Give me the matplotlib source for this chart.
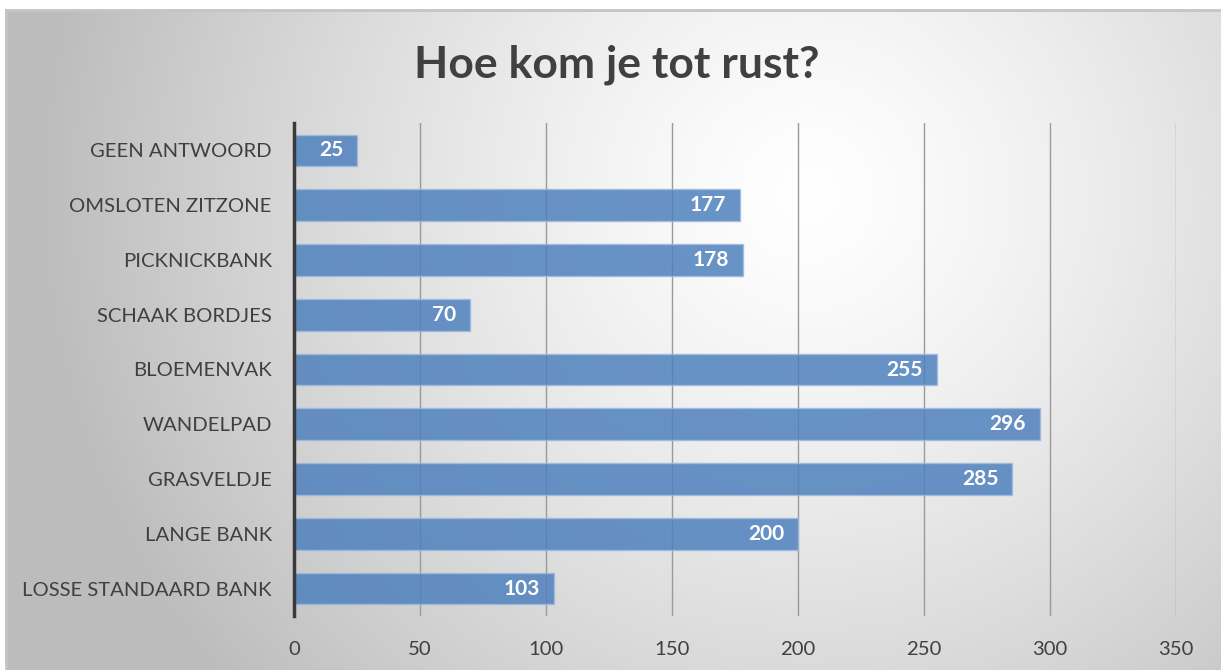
import numpy as np
from matplotlib import pyplot as plt

categories = ["GEEN ANTWOORD", "OMSLOTEN ZITZONE", "PICKNICKBANK", "SCHAAK BORDJES",
              "BLOEMENVAK", "WANDELPAD", "GRASVELDJE", "LANGE BANK", "LOSSE STANDAARD BANK"]
values = [25, 177, 178, 70, 255, 296, 285, 200, 103]
xticks = [0, 50, 100, 150, 200, 250, 300, 350]
title = "Hoe kom je tot rust?"

plt.rcParams['font.family'] = ['Lato', 'DejaVu Sans']

fig = plt.figure(figsize=(12.21, 6.70), dpi=100)
fig.patch.set_facecolor("white")

# radial gradient background
bg = fig.add_axes([6 / 1221, 0, 1 - 6 / 1221, 1 - 10 / 670], zorder=-10)
ny, nx = 330, 600
yy, xx = np.mgrid[0:1:ny * 1j, 0:1:nx * 1j]
d = np.sqrt(((xx - 0.66) * 1.8) ** 2 + ((yy - 0.72) * 1.0) ** 2)
g = np.clip(1.0 - 0.22 * d ** 1.3, 0.74, 1.0)
bg.imshow(np.dstack([g, g, g]), origin="lower", extent=[0, 1, 0, 1], aspect="auto")
bg.set_xlim(0, 1)
bg.set_ylim(0, 1)
bg.set_xticks([])
bg.set_yticks([])
for s in ["right", "bottom"]:
	bg.spines[s].set_visible(False)
for s in ["top", "left"]:
	bg.spines[s].set_color("#c4c4c4")
	bg.spines[s].set_linewidth(2)

ax = fig.add_axes([294 / 1221, 54 / 670, (1176 - 294) / 1221, (616 - 123) / 670])
ax.patch.set_alpha(0)

ypos = np.arange(len(categories))
bars = ax.barh(ypos, values, height=0.58, color="#4f81bd", alpha=0.85,
			   edgecolor="#9dbbe0", linewidth=1, zorder=3)

for y, v in zip(ypos, values):
	ax.text(v - 5.5, y, str(v), ha="right", va="center", color="white",
			fontsize=15, fontweight="bold", zorder=4)

ax.set_ylim(len(categories) - 0.5, -0.5)
ax.set_xlim(0, 350)
ax.set_yticks(ypos)
ax.set_yticklabels(categories, fontsize=14.6, color="#404040")
ax.set_xticks(xticks)
ax.set_xticklabels([str(t) for t in xticks], fontsize=14.6, color="#404040")
ax.tick_params(length=0, pad=18)
ax.tick_params(axis="y", pad=16)
ax.grid(axis="x", color="#9a9a9a", linewidth=1, zorder=1)
ax.set_axisbelow(True)
for s in ["top", "right", "bottom"]:
	ax.spines[s].set_visible(False)
ax.spines["left"].set_color("#3a3a3a")
ax.spines["left"].set_linewidth(2.5)
ax.spines["left"].set_zorder(5)

fig.text(617 / 1221, 1 - 65 / 670, title, ha="center", va="center",
		 fontsize=32, fontweight="bold", color="#404040")

fig.savefig("out.png", dpi=100)
